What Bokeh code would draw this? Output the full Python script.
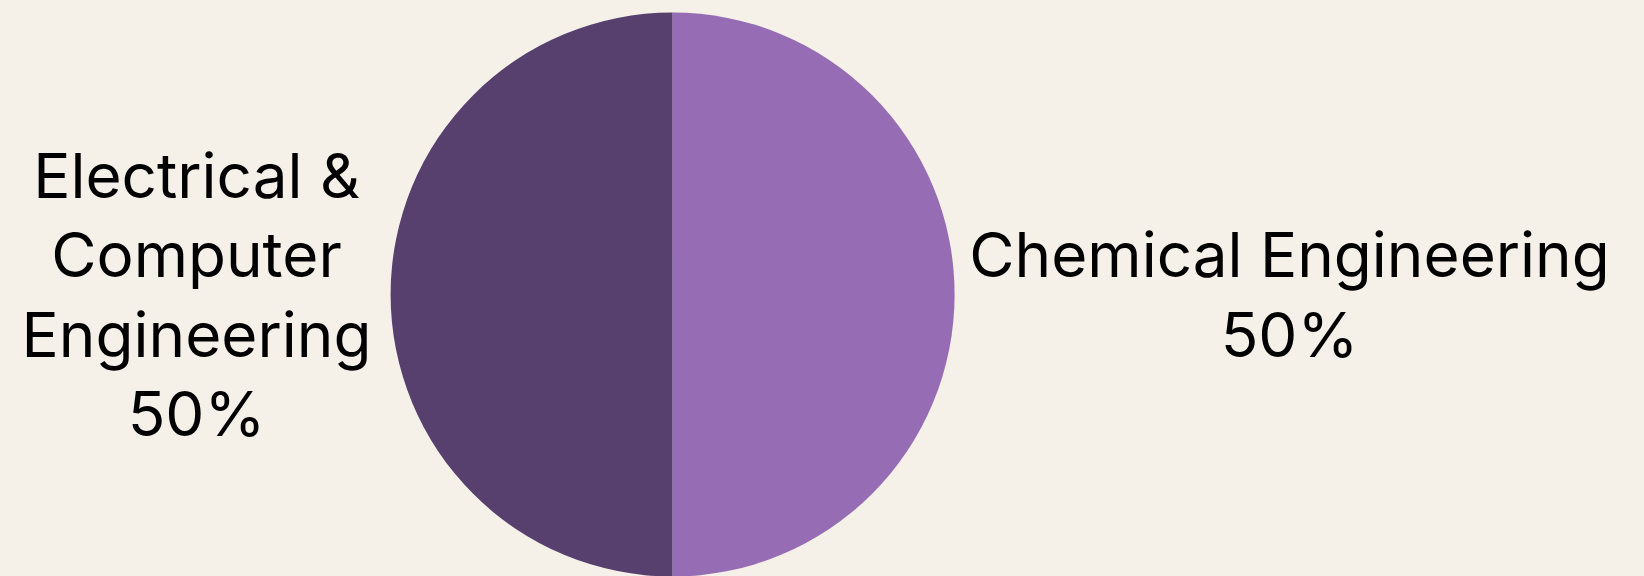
import math
from bokeh.plotting import figure
from bokeh.models import ColumnDataSource
from bokeh.core.properties import value
from bokeh.embed import file_html
from bokeh.resources import INLINE

# ---- data ----
categories = ["Chemical Engineering", "Electrical & Computer Engineering"]
label_texts = ["Chemical Engineering\n50%", "Electrical &\nComputer\nEngineering\n50%"]
shares = [50, 50]
colors = ["#966CB4", "#573F6E"]

# ---- layout ----
W, H = 1644, 576
cx, cy, R = 672, 282, 282
label_gap = 26
half_widths = [309, 168]  # estimated half-widths of each label block
BG = "#F5F0E8"

total = sum(shares)
starts, ends, mids = [], [], []
acc = 0.0
for s in shares:
    a0 = math.pi / 2 - 2 * math.pi * acc / total
    acc += s
    a1 = math.pi / 2 - 2 * math.pi * acc / total
    starts.append(a1)
    ends.append(a0)
    mids.append((a0 + a1) / 2)

lx, ly = [], []
for m, hw in zip(mids, half_widths):
    side = 1 if math.cos(m) >= 0 else -1
    lx.append(cx + side * (R + label_gap + hw))
    ly.append(cy)

src = ColumnDataSource(dict(cat=categories, start=starts, end=ends, color=colors,
                            lx=lx, ly=ly, label=label_texts))

p = figure(width=W, height=H, x_range=(0, W), y_range=(0, H),
           output_backend="svg", toolbar_location=None, min_border=0)
p.axis.visible = False
p.grid.visible = False
p.outline_line_color = None
p.background_fill_color = BG
p.border_fill_color = BG

p.wedge(x=cx, y=cy, radius=R, start_angle="start", end_angle="end",
        fill_color="color", line_color=None, source=src)

p.text(x="lx", y="ly", text="label", source=src, text_align="center",
       text_baseline="middle", text_font=value("Inter"), text_font_size="62px",
       text_line_height=1.06, text_color="#000000")

html = file_html(p, INLINE)
html = html.replace("</head>", "<style>body{background:%s;}</style></head>" % BG)
open("out.html", "w").write(html)
